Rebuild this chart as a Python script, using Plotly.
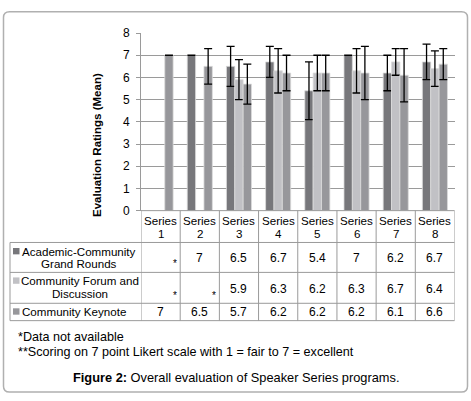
import plotly.graph_objects as go

W, H = 471, 401

categories = ["Series 1", "Series 2", "Series 3", "Series 4", "Series 5", "Series 6", "Series 7", "Series 8"]
header_lines = [["Series", str(i)] for i in range(1, 9)]

series_names = ["Academic-Community Grand Rounds", "Community Forum and Discussion", "Community Keynote"]
row_label_lines = [["Academic-Community", "Grand Rounds"], ["Community Forum and", "Discussion"], ["Community Keynote"]]

grand_rounds = [None, 7, 6.5, 6.7, 5.4, 7, 6.2, 6.7]
forum = [None, None, 5.9, 6.3, 6.2, 6.3, 6.7, 6.4]
keynote = [7, 6.5, 5.7, 6.2, 6.2, 6.2, 6.1, 6.6]

grand_rounds_err = [None, 0, 0.9, 0.7, 1.3, 0, 0.8, 0.8]
forum_err = [None, None, 0.9, 1.0, 0.8, 1.0, 0.6, 0.8]
keynote_err = [0, 0.8, 0.9, 0.8, 0.8, 1.2, 1.2, 0.7]

colors = ["#77777b", "#c1c1c5", "#97979b"]

values = [grand_rounds, forum, keynote]
errors = [grand_rounds_err, forum_err, keynote_err]

footnotes = ["*Data not available", "**Scoring on 7 point Likert scale with 1 = fair to 7 = excellent"]
caption_bold = "Figure 2:"
caption_rest = " Overall evaluation of Speaker Series programs."
y_title = "Evaluation Ratings (Mean)"

FONT = "Liberation Sans, Arial, sans-serif"


def px(x):
    return x / W


def py(y):
    return 1 - y / H


fig = go.Figure()
for name, vals, errs, col in zip(series_names, values, errors, colors):
    fig.add_trace(go.Bar(
        name=name, x=list(range(len(categories))), y=vals,
        marker=dict(color=col, line=dict(color="#dcdcdc", width=0.8)),
        error_y=dict(type="data", array=[e if e is not None else 0 for e in errs],
                     visible=True, color="#000000", thickness=1.3, width=4),
        showlegend=False,
    ))

plot_l, plot_r, plot_t, plot_b = 141, 454.5, 27, 211

fig.update_layout(
    width=W, height=H, autosize=False,
    margin=dict(l=0, r=0, t=0, b=0),
    paper_bgcolor="white", plot_bgcolor="white",
    barmode="group", bargap=0.36, bargroupgap=0,
    font=dict(family=FONT, color="#000000", size=12),
    xaxis=dict(domain=[px(plot_l), px(plot_r)], range=[-0.5, len(categories) - 0.5],
               showticklabels=False, showgrid=False, zeroline=False, showline=False, fixedrange=True),
    yaxis=dict(domain=[py(plot_b), py(plot_t)], range=[0, 8], dtick=1,
               showgrid=True, gridcolor="#9a9a9a", gridwidth=1,
               zeroline=False, showline=True, linecolor="#9a9a9a", linewidth=1,
               ticks="outside", ticklen=4, tickcolor="#9a9a9a",
               tickfont=dict(family=FONT, size=12, color="#000000"), ticklabelstandoff=4),
)

shapes = []
annotations = []
line_col = "#9a9a9a"

# table geometry (pixels)
table_left = 10
row_edges = [211, 244, 275, 307, 325]

# horizontal lines
shapes.append(dict(type="line", xref="paper", yref="paper", x0=px(plot_l), x1=px(plot_r),
                   y0=py(row_edges[0]), y1=py(row_edges[0]), line=dict(color=line_col, width=1)))
for ye in row_edges[1:]:
    shapes.append(dict(type="line", xref="paper", yref="paper", x0=px(table_left), x1=px(plot_r),
                       y0=py(ye), y1=py(ye), line=dict(color=line_col, width=1)))
# vertical lines
shapes.append(dict(type="line", xref="paper", yref="paper", x0=px(table_left), x1=px(table_left),
                   y0=py(row_edges[1]), y1=py(row_edges[-1]), line=dict(color=line_col, width=1)))
for k in range(len(categories) + 1):
    shapes.append(dict(type="line", xref="x", yref="paper", x0=k - 0.5, x1=k - 0.5,
                       y0=py(row_edges[0]), y1=py(row_edges[-1]), line=dict(color=line_col, width=1)))

tfs = 11.6
# header
for k, lines in enumerate(header_lines):
    for j, (t, yy) in enumerate(zip(lines, [221, 234.5])):
        annotations.append(dict(text=t, x=k, y=py(yy), xref="x", yref="paper", showarrow=False,
                                xanchor="center", yanchor="middle", font=dict(size=tfs)))

# row labels
label_line_y = [[253, 266], [283.5, 297], [315.5]]
label_centers = [78.5, 80, 73.5]
for r, (lines, ys, cx, col) in enumerate(zip(row_label_lines, label_line_y, label_centers, colors)):
    for t, yy in zip(lines, ys):
        annotations.append(dict(text=t, x=px(cx), y=py(yy), xref="paper", yref="paper", showarrow=False,
                                xanchor="center", yanchor="middle", font=dict(size=tfs)))
    shapes.append(dict(type="rect", xref="paper", yref="paper", x0=px(13), x1=px(19.5),
                       y0=py(ys[0] + 3.3), y1=py(ys[0] - 3.3), fillcolor=col, line=dict(width=0)))

# values
value_y = [260, 292.5, 316]
for r, (vals, yy) in enumerate(zip(values, value_y)):
    for k, v in enumerate(vals):
        if v is None:
            annotations.append(dict(text="*", x=k + 0.37, y=py(yy + 6), xref="x", yref="paper",
                                    showarrow=False, xanchor="center", yanchor="middle",
                                    font=dict(size=10)))
        else:
            annotations.append(dict(text=f"{v:g}", x=k, y=py(yy), xref="x", yref="paper",
                                    showarrow=False, xanchor="center", yanchor="middle",
                                    font=dict(size=12)))

# y title
annotations.append(dict(text=f"<b>{y_title}</b>", x=px(97), y=py(143), xref="paper", yref="paper",
                        showarrow=False, textangle=-90, xanchor="center", yanchor="middle",
                        font=dict(size=11.5)))

# footnotes
for t, yy in zip(footnotes, [342, 357.5]):
    annotations.append(dict(text=t, x=px(15.5), y=py(yy), xref="paper", yref="paper", showarrow=False,
                            xanchor="left", yanchor="middle", font=dict(size=12.6)))

# caption
annotations.append(dict(text=f"<b>{caption_bold}</b>{caption_rest}", x=px(235.5), y=py(384),
                        xref="paper", yref="paper", showarrow=False, xanchor="center",
                        yanchor="middle", font=dict(size=12.8)))

# outer rounded border
x0, y0, x1, y1, rr = 3.5, 5, 467.5, 399, 6
path = (f"M {px(x0+rr)} {py(y0)} L {px(x1-rr)} {py(y0)} Q {px(x1)} {py(y0)} {px(x1)} {py(y0+rr)} "
        f"L {px(x1)} {py(y1-rr)} Q {px(x1)} {py(y1)} {px(x1-rr)} {py(y1)} "
        f"L {px(x0+rr)} {py(y1)} Q {px(x0)} {py(y1)} {px(x0)} {py(y1-rr)} "
        f"L {px(x0)} {py(y0+rr)} Q {px(x0)} {py(y0)} {px(x0+rr)} {py(y0)} Z")
shapes.append(dict(type="path", xref="paper", yref="paper", path=path,
                   line=dict(color="#b0b0b0", width=1.5)))

fig.update_layout(shapes=shapes, annotations=annotations)

fig.write_html("out.html", config={"displayModeBar": False, "staticPlot": True},
               post_script="document.body.style.margin='0';")
